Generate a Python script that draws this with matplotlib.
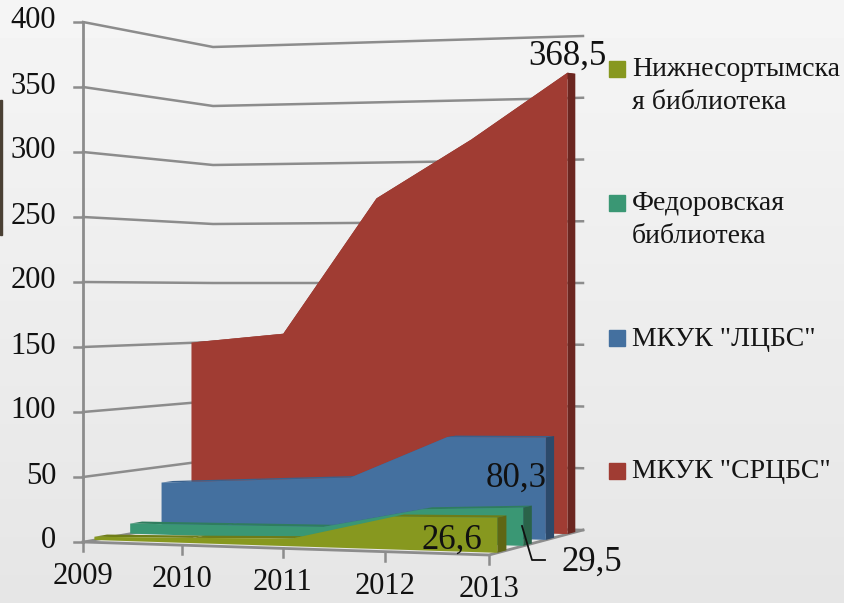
import numpy as np
import matplotlib
matplotlib.use('Agg')
import matplotlib.pyplot as plt
from matplotlib.patches import Polygon, Rectangle

plt.rcParams['font.family'] = ['Liberation Serif', 'DejaVu Serif']

years = ['2009', '2010', '2011', '2012', '2013']
y_ticks = [0, 50, 100, 150, 200, 250, 300, 350, 400]

# back to front
names = ['МКУК "СРЦБС"', 'МКУК "ЛЦБС"', 'Федоровская\nбиблиотека', 'Нижнесортымска\nя библиотека']
srcbs = [150, 158, 269, 316, 368.5]
lcbs = [37, 41, 45, 79, 80.3]
fedorovskaya = [8, 9, 10, 26, 29.5]
nizhnesortym = [2.5, 4, 6, 25, 26.6]
series = [srcbs, lcbs, fedorovskaya, nizhnesortym]

colors = ['#A03C33', '#44709F', '#3A9774', '#87981F']
dark = ['#6B2620', '#2C4A6B', '#2A6349', '#5F6614']
top_col = ['#8A3028', '#3A618C', '#2F7D5E', '#6E7C18']
depths = [0.82, 0.58, 0.34, 0.08]
thick = 0.09

# floor corners in pixels: front-left, front-right, back-right, back-left
src = [(0, 0), (1, 0), (1, 1), (0, 1)]
dst = [(83, 542), (489, 555), (583, 530), (213, 519)]
# pixels per unit of value at the same corners
scales = [1.30, 1.33, 1.235, 1.18]


def floor_matrix():
    A, b = [], []
    for (u, v), (x, y) in zip(src, dst):
        A.append([u, v, 1, 0, 0, 0, -u * x, -v * x])
        A.append([0, 0, 0, u, v, 1, -u * y, -v * y])
        b += [x, y]
    h = np.linalg.solve(np.array(A, float), np.array(b, float))
    return np.append(h, 1).reshape(3, 3)


H = floor_matrix()


def project(year_idx, value, depth):
    u = year_idx / (len(years) - 1)
    p = H @ np.array([u, depth, 1.0])
    x, y = p[0] / p[2], p[1] / p[2]
    s = (scales[0] * (1 - u) * (1 - depth) + scales[1] * u * (1 - depth)
         + scales[2] * u * depth + scales[3] * (1 - u) * depth)
    return x, y - value * s


fig = plt.figure(figsize=(8.44, 6.03), dpi=100)
ax = fig.add_axes([0, 0, 1, 1])
ax.set_xlim(0, 844)
ax.set_ylim(603, 0)
ax.axis('off')

# background, light at the top and greyer towards the bottom
ax.imshow(np.linspace(0.96, 0.90, 64).reshape(-1, 1), cmap='gray', vmin=0, vmax=1,
          extent=(0, 844, 603, 0), aspect='auto', zorder=0)
ax.add_patch(Rectangle((0, 100), 1.5, 135, color='#4A4034', zorder=1))

grid_col = '#8C8C8C'
text_col = '#111111'
last = len(years) - 1

# walls
for v in y_ticks:
    pts = [project(0, v, 0), project(0, v, 1), project(last, v, 1)]
    ax.plot(*zip(*pts), color=grid_col, lw=1.8, zorder=2)
    x0, y0 = pts[0]
    ax.plot([x0 - 9, x0], [y0, y0], color=grid_col, lw=1.8, zorder=2)
    ax.text(x0 - 27, y0 - 1, str(v), ha='right', va='center', fontsize=22, color=text_col)

ax.plot(*zip(project(0, 0, 0), project(0, 400, 0)), color=grid_col, lw=2, zorder=2)

# floor and year ticks
floor = [project(0, 0, 0), project(last, 0, 0), project(last, 0, 1)]
ax.plot(*zip(*floor), color=grid_col, lw=2, zorder=2)
for i, yr in enumerate(years):
    x0, y0 = project(i, 0, 0)
    ax.plot([x0, x0], [y0, y0 + 9], color=grid_col, lw=1.8, zorder=2)
    ax.text(x0, y0 + 34.5, yr, ha='center', va='center', fontsize=22, color=text_col)

# ribbons
for k, vals in enumerate(series):
    d = depths[k]
    z = 3 + k
    front = [project(i, v, d) for i, v in enumerate(vals)]
    back = [project(i, v, d + thick) for i, v in enumerate(vals)]
    for i in range(last):
        ax.add_patch(Polygon([front[i], front[i + 1], back[i + 1], back[i]],
                             fc=top_col[k], ec='none', zorder=z))
    ax.add_patch(Polygon(front + [project(last, 0, d), project(0, 0, d)],
                         fc=colors[k], ec='none', zorder=z + 0.2))
    ax.add_patch(Polygon([front[-1], back[-1], project(last, 0, d + thick), project(last, 0, d)],
                         fc=dark[k], ec='none', zorder=z + 0.1))

# data labels
label_pos = [(567, 56), (516, 478), (592, 562), (452, 540)]
for vals, (lx, ly) in zip(series, label_pos):
    ax.text(lx, ly, str(vals[-1]).replace('.', ','), ha='center', va='center',
            fontsize=25, color=text_col, zorder=10)
ax.plot([522, 532, 545], [526, 560, 560], color=text_col, lw=1.3, zorder=10)

# legend
legend_y = [471, 338, 219, 85]
for name, col, ly in zip(names, colors, legend_y):
    box_y = ly - 24 if '\n' in name else ly - 8
    ax.add_patch(Rectangle((609, box_y), 16, 16, color=col, zorder=10))
    ax.text(632, ly + 1, name, ha='left', va='center', fontsize=20, linespacing=1.38,
            color='#151515', zorder=10)

fig.savefig('out.png', dpi=100)
